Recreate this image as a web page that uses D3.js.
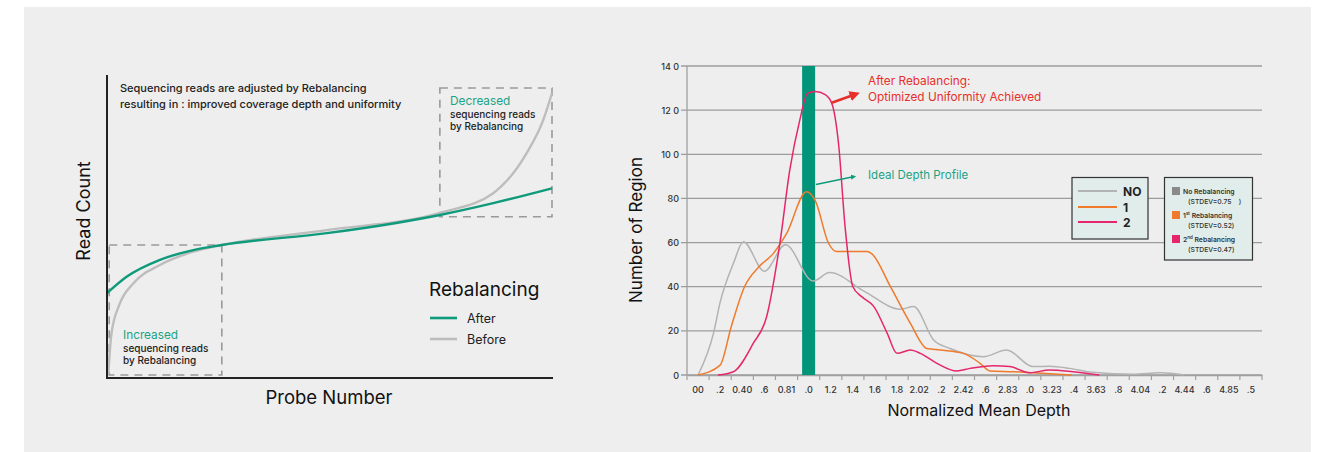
<!DOCTYPE html>
<html>
<head>
<meta charset="utf-8">
<script src="https://cdn.jsdelivr.net/npm/d3@7"></script>
<style>
  body { margin: 0; background: #fff; font-family: Inter, "Open Sans", sans-serif; }
</style>
</head>
<body>
<div id="chart"></div>
<script>
// ---- left panel data (probe number 0-100, read count 0-100) ----
const afterProbe  = [0, 4.4, 11.9, 19.4, 25.8, 49.4, 64.3, 74.8, 86.8, 100];
const afterReads  = [28, 33.4, 39, 42.2, 43.9, 47.8, 51, 53.8, 57.7, 62.6];
const beforeProbe = [0.3, 1, 2.9, 5.9, 11.9, 19.4, 25.8, 49.4, 74.8, 86.8, 94.3, 98, 100];
const beforeReads = [1.5, 14.7, 24.6, 31.2, 37.3, 41.7, 43.9, 48.8, 54.5, 61, 74.2, 85, 94];

// ---- right panel data ----
const depthLabels = ["00", ".2", "0.40", ".6", "0.81", ".0", "1.2", "1.4", "1.6", "1.8", "2.02", ".2", "2.42",
  ".6", "2.83", ".0", "3.23", ".4", "3.63", ".8", "4.04", ".2", "4.44", ".6", "4.85", ".5"];
const yTickValues = [0, 20, 40, 60, 80, 100, 120, 140];
const yTickLabels = ["0", "20", "40", "60", "80", "10 0", "12 0", "14 0"];

const noDepth = [0, 0.14, 0.2, 0.32, 0.41, 0.6, 0.79, 1.04, 1.19, 1.5, 1.83, 1.95, 2.13, 2.28, 2.58, 2.79, 3.03, 3.18, 3.36, 3.57, 3.93, 4.18, 4.4];
const noCount = [0, 19, 33, 50.6, 60.4, 47, 59, 42.6, 46.4, 38, 29.8, 31, 15.9, 12, 8.3, 11.3, 3.8, 4, 3, 1.2, 0.3, 1, 0];

const oneDepth = [0, 0.2, 0.3, 0.42, 0.55, 0.68, 0.8, 0.98, 1.06, 1.18, 1.25, 1.53, 1.57, 1.74, 1.92, 2.07, 2.19, 2.4, 2.55, 2.64, 2.85, 3.03, 3.38];
const oneCount = [0, 4.5, 21.9, 40, 49, 55, 64, 83, 79, 59.7, 56, 56, 55, 40, 23.4, 12, 11.3, 9.8, 5.3, 1.8, 1.5, 1, 0];

const twoDepth = [0.18, 0.32, 0.5, 0.62, 0.74, 0.83, 0.92, 0.99, 1.06, 1.15, 1.21, 1.27, 1.33, 1.4, 1.48, 1.59, 1.71, 1.8, 1.92, 2.01, 2.16, 2.34, 2.46, 2.67, 2.82, 3.0, 3.18, 3.39, 3.63];
const twoCount = [0, 1.5, 14.4, 26.4, 59.7, 93, 115.5, 127.6, 128.4, 127, 123, 105, 67, 40, 35.5, 31, 19, 9.8, 11.3, 9.8, 5.3, 1.8, 3, 4.2, 3.8, 1, 2.3, 1.5, 0];

const idealDepth = 1.0;

const grayC = "#b3b3b3", orangeC = "#f07a2b", pinkC = "#e5266c", tealC = "#0f9a7c", redC = "#e8302a";

const svg = d3.select("#chart").append("svg")
    .attr("width", 1326)
    .attr("height", 452);

// panel background
svg.append("rect")
    .attr("x", 24).attr("y", 7)
    .attr("width", 1287).attr("height", 445)
    .attr("fill", "#eeeeee");

svg.append("defs").selectAll("marker")
    .data([["arrRed", redC], ["arrTeal", tealC]])
    .join("marker")
    .attr("id", d => d[0])
    .attr("viewBox", "0 0 10 10")
    .attr("refX", 2).attr("refY", 5)
    .attr("markerWidth", 4).attr("markerHeight", 4)
    .attr("orient", "auto")
    .append("path")
    .attr("d", "M0,0 L10,5 L0,10 Z")
    .attr("fill", d => d[1]);

/* ===================== left chart ===================== */
let L = svg.append("g");

let lx = d3.scaleLinear().domain([0, 100]).range([107, 552]);
let ly = d3.scaleLinear().domain([0, 100]).range([378, 75]);

// dashed boxes
L.append("rect")
    .attr("x", lx(0.5)).attr("y", ly(43.9))
    .attr("width", lx(25.8) - lx(0.5)).attr("height", ly(1) - ly(43.9))
    .attr("fill", "none").attr("stroke", "#9a9a9a").attr("stroke-width", 1.6)
    .attr("stroke-dasharray", "8,6");
L.append("rect")
    .attr("x", lx(74.8)).attr("y", ly(95.7))
    .attr("width", lx(100) - lx(74.8)).attr("height", ly(53.2) - ly(95.7))
    .attr("fill", "none").attr("stroke", "#9a9a9a").attr("stroke-width", 1.6)
    .attr("stroke-dasharray", "8,6");

let lline = d3.line().x(d => lx(d[0])).y(d => ly(d[1])).curve(d3.curveMonotoneX);

L.append("path")
    .datum(d3.zip(beforeProbe, beforeReads))
    .attr("d", lline)
    .attr("fill", "none").attr("stroke", "#bdbdbd").attr("stroke-width", 2.4);
L.append("path")
    .datum(d3.zip(afterProbe, afterReads))
    .attr("d", lline)
    .attr("fill", "none").attr("stroke", tealC).attr("stroke-width", 2.4);

// axes
L.append("line")
    .attr("x1", 107).attr("x2", 107).attr("y1", 75).attr("y2", 378)
    .attr("stroke", "#222").attr("stroke-width", 2);
L.append("line")
    .attr("x1", 106).attr("x2", 553).attr("y1", 378).attr("y2", 378)
    .attr("stroke", "#222").attr("stroke-width", 2);

L.append("text")
    .attr("transform", "translate(90,211) rotate(-90)")
    .attr("text-anchor", "middle")
    .attr("font-size", 18).attr("fill", "#111")
    .text("Read Count");
L.append("text")
    .attr("x", 329).attr("y", 404)
    .attr("text-anchor", "middle")
    .attr("font-size", 18.5).attr("fill", "#111")
    .text("Probe Number");

L.append("text").attr("x", 120).attr("y", 92)
    .attr("font-size", 11).attr("fill", "#222").attr("font-weight", 500)
    .text("Sequencing reads are adjusted by Rebalancing");
L.append("text").attr("x", 120).attr("y", 108)
    .attr("font-size", 11).attr("fill", "#222").attr("font-weight", 500)
    .text("resulting in : improved coverage depth and uniformity");

function noteText(x, y, head) {
    let t = L.append("text").attr("x", x).attr("y", y);
    t.append("tspan").attr("x", x).attr("font-size", 11.8).attr("fill", "#1aa386").text(head);
    t.append("tspan").attr("x", x).attr("dy", 12.5).attr("font-size", 10).attr("fill", "#222").attr("font-weight", 500).text("sequencing reads");
    t.append("tspan").attr("x", x).attr("dy", 12.5).attr("font-size", 10).attr("fill", "#222").attr("font-weight", 500).text("by Rebalancing");
}
noteText(450, 105, "Decreased");
noteText(123, 339, "Increased");

L.append("text").attr("x", 429).attr("y", 296)
    .attr("font-size", 19).attr("fill", "#111").text("Rebalancing");
[["After", tealC, 318], ["Before", "#bdbdbd", 339]].forEach(d => {
    L.append("line").attr("x1", 430).attr("x2", 457).attr("y1", d[2]).attr("y2", d[2])
        .attr("stroke", d[1]).attr("stroke-width", 2.6);
    L.append("text").attr("x", 467).attr("y", d[2] + 4.5)
        .attr("font-size", 12.5).attr("fill", "#222").text(d[0]);
});

/* ===================== right chart ===================== */
let R = svg.append("g");

let x = d3.scaleLinear().domain([-0.1, 5.1]).range([687, 1262]);
let xb = d3.scaleBand().domain(d3.range(depthLabels.length)).range([687, 1262]);
let y = d3.scaleLinear().domain([0, 140]).range([375, 66]);

// grid lines
R.selectAll(".grid")
    .data(yTickValues)
    .join("line")
    .attr("class", "grid")
    .attr("x1", 681).attr("x2", 1262)
    .attr("y1", d => y(d)).attr("y2", d => y(d))
    .attr("stroke", "#9c9c9c").attr("stroke-width", 1.3);

R.selectAll(".ylab")
    .data(yTickValues)
    .join("text")
    .attr("class", "ylab")
    .attr("x", 679).attr("y", d => y(d) + 3.5)
    .attr("text-anchor", "end")
    .attr("font-size", 9).attr("fill", "#333").attr("font-weight", 500)
    .text((d, i) => yTickLabels[i]);

R.append("line")
    .attr("x1", 687).attr("x2", 687).attr("y1", 66).attr("y2", 375)
    .attr("stroke", "#a0a0a0").attr("stroke-width", 1.3);

// x axis
let xAxis = d3.axisBottom(xb).tickSize(0).tickPadding(12).tickFormat(i => depthLabels[i]);
let xg = R.append("g")
    .attr("transform", "translate(0,375)")
    .call(xAxis);
xg.select(".domain").attr("stroke", "#a0a0a0").attr("stroke-width", 1.3);
xg.selectAll("text").attr("font-size", 9).attr("fill", "#333").attr("font-weight", 500)
    .attr("font-family", "Inter, sans-serif");
R.selectAll(".xtick")
    .data(d3.range(depthLabels.length + 1))
    .join("line")
    .attr("class", "xtick")
    .attr("x1", i => 687 + i * xb.step()).attr("x2", i => 687 + i * xb.step())
    .attr("y1", 375).attr("y2", 380)
    .attr("stroke", "#a0a0a0").attr("stroke-width", 1.2);

// ideal depth bar
R.append("rect")
    .attr("x", x(idealDepth) - 6.5).attr("y", y(140))
    .attr("width", 13).attr("height", y(0) - y(140))
    .attr("fill", "#009479");

let rline = d3.line().x(d => x(d[0])).y(d => y(d[1])).curve(d3.curveMonotoneX);
[[noDepth, noCount, grayC], [oneDepth, oneCount, orangeC], [twoDepth, twoCount, pinkC]].forEach(s => {
    R.append("path")
        .datum(d3.zip(s[0], s[1]))
        .attr("d", rline)
        .attr("fill", "none").attr("stroke", s[2]).attr("stroke-width", 1.5);
});

// annotations
R.append("line").attr("x1", 831).attr("y1", 103).attr("x2", 852).attr("y2", 95.5)
    .attr("stroke", redC).attr("stroke-width", 2.6).attr("marker-end", "url(#arrRed)");
R.append("text").attr("x", 868).attr("y", 85).attr("font-size", 11.8).attr("fill", redC).text("After Rebalancing:");
R.append("text").attr("x", 868).attr("y", 101).attr("font-size", 11.8).attr("fill", redC).text("Optimized Uniformity Achieved");

R.append("line").attr("x1", 816).attr("y1", 184.5).attr("x2", 852).attr("y2", 177)
    .attr("stroke", tealC).attr("stroke-width", 1.3).attr("marker-end", "url(#arrTeal)");
R.append("text").attr("x", 868).attr("y", 179).attr("font-size", 11.5).attr("fill", "#1aa386").text("Ideal Depth Profile");

R.append("text")
    .attr("transform", "translate(642,230) rotate(-90)")
    .attr("text-anchor", "middle")
    .attr("font-size", 17).attr("fill", "#111")
    .text("Number of Region");
R.append("text")
    .attr("x", 979).attr("y", 416)
    .attr("text-anchor", "middle")
    .attr("font-size", 16).attr("fill", "#111")
    .text("Normalized Mean Depth");

// legend 1
R.append("rect").attr("x", 1072).attr("y", 177.5).attr("width", 76).attr("height", 61.5)
    .attr("fill", "#e1edea").attr("stroke", "#333").attr("stroke-width", 1.2);
[["NO", grayC, 191], ["1", orangeC, 207], ["2", pinkC, 222]].forEach(d => {
    R.append("line").attr("x1", 1078).attr("x2", 1117).attr("y1", d[2]).attr("y2", d[2])
        .attr("stroke", d[1]).attr("stroke-width", 2);
    R.append("text").attr("x", 1123).attr("y", d[2] + 4.5)
        .attr("font-size", 12).attr("font-weight", 700).attr("fill", "#222").text(d[0]);
});

// legend 2
R.append("rect").attr("x", 1164.5).attr("y", 177.5).attr("width", 88).attr("height", 82.5)
    .attr("fill", "#e1edea").attr("stroke", "#333").attr("stroke-width", 1.2);
[["No Rebalancing", "", "(STDEV=0.75    )", "#8a8a8a", 187],
 ["1", "st", "(STDEV=0.52)", orangeC, 211],
 ["2", "nd", "(STDEV=0.47)", pinkC, 235]].forEach(d => {
    R.append("rect").attr("x", 1172).attr("y", d[4]).attr("width", 8).attr("height", 8).attr("fill", d[3]);
    let t = R.append("text").attr("x", 1183).attr("y", d[4] + 7)
        .attr("font-size", 6.8).attr("font-weight", 600).attr("fill", "#333");
    if (d[1] === "") {
        t.text(d[0]);
    } else {
        t.append("tspan").text(d[0]);
        t.append("tspan").attr("font-size", 4.5).attr("dy", -3).text(d[1]);
        t.append("tspan").attr("dy", 3).text(" Rebalancing");
    }
    R.append("text").attr("x", 1188).attr("y", d[4] + 17)
        .attr("font-size", 6.8).attr("font-weight", 500).attr("fill", "#333")
        .attr("xml:space", "preserve").text(d[2]);
});
</script>
</body>
</html>
